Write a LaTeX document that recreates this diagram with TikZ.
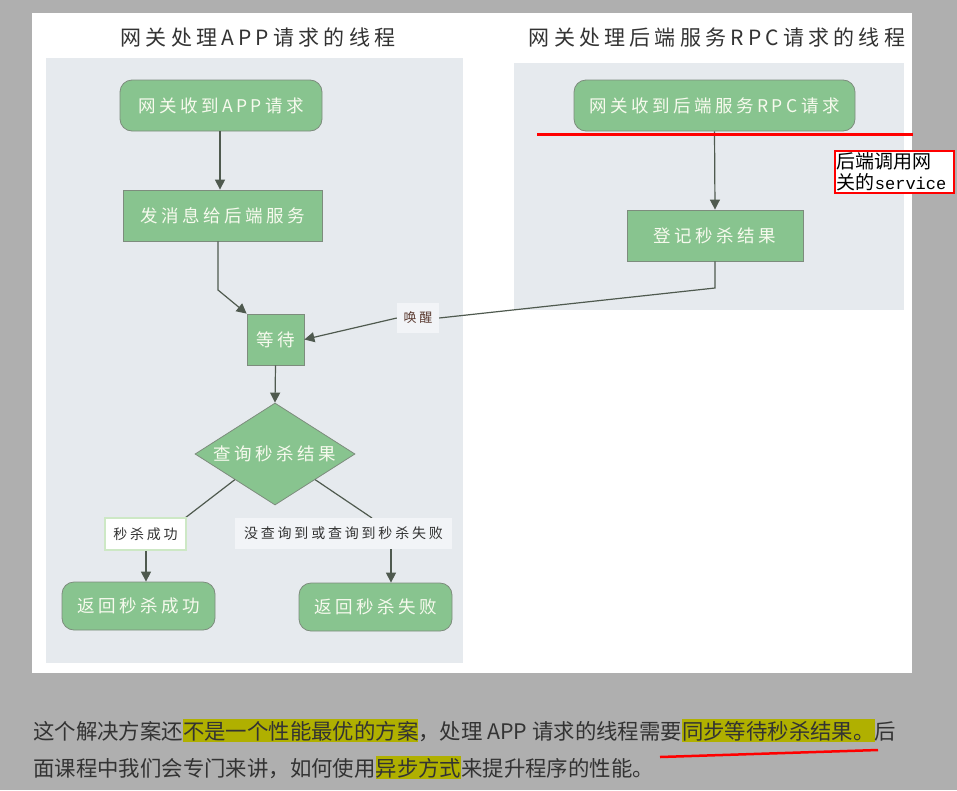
\documentclass[tikz,border=0pt]{standalone}
\usepackage{fontspec}
\setmainfont{Noto Sans CJK SC}
\newfontfamily\hand[LetterSpace=20]{Noto Sans CJK SC}
\newfontfamily\monof{Liberation Mono}
\usetikzlibrary{shapes.geometric,arrows.meta}
\definecolor{bgout}{HTML}{AFAFAF}
\definecolor{lane}{HTML}{E6EAEE}
\definecolor{nodefill}{HTML}{88C48F}
\definecolor{nodeborder}{HTML}{7D8C7D}
\definecolor{nodetext}{HTML}{F7FAEE}
\definecolor{linec}{HTML}{4F5A4F}
\definecolor{labelfill}{HTML}{F2F4F7}
\definecolor{labelborder}{HTML}{CDE8C5}
\definecolor{titlec}{HTML}{333333}
\definecolor{hlc}{HTML}{B0B000}
\definecolor{wakec}{HTML}{5A3A30}
\newcommand\hlt[1]{{\setlength{\fboxsep}{0pt}\colorbox{hlc}{\rule[-3pt]{0pt}{23pt}#1}}}
\tikzset{
  box/.style={draw=nodeborder, fill=nodefill, text=nodetext, font=\hand\fontsize{17.5}{20}\selectfont, inner sep=0pt, line width=0.8pt},
  rbox/.style={box, rounded corners=12pt},
  conn/.style={draw=linec, line width=1.2pt},
  arr/.style={conn, -{Triangle[width=10pt,length=10pt]}},
  lbl/.style={fill=labelfill, text=titlec, inner sep=0pt, font=\hand\fontsize{14}{16}\selectfont},
  titletext/.style={text=titlec, font=\hand\fontsize{21}{25}\selectfont},
  paratext/.style={anchor=base west, inner sep=0pt, text=titlec, font=\fontsize{21.4}{26}\selectfont},
}
\begin{document}
\begin{tikzpicture}[x=1pt,y=-1pt]
\useasboundingbox (0,0) rectangle (957,790);
\fill[bgout] (0,0) rectangle (957,790);
\fill[white] (32,13) rectangle (912,673);
\fill[lane] (46,58) rectangle (463,663);
\fill[lane] (514,63) rectangle (904,310);
\node[titletext] (t1) at (258,37) {网关处理APP请求的线程};
\node[titletext] (t2) at (717,37) {网关处理后端服务RPC请求的线程};
% left lane
\node[rbox, minimum width=202pt, minimum height=51pt] (A) at (221,105.5) {网关收到APP请求};
\node[box, minimum width=199pt, minimum height=51pt] (B) at (222.5,215.5) {发消息给后端服务};
\node[box, minimum width=57pt, minimum height=51pt] (W) at (275.5,339.5) {等待};
\node[box, diamond, minimum width=160pt, minimum height=102pt, aspect=1.57] (D) at (275,454) {查询秒杀结果};
\node[rbox, minimum width=153pt, minimum height=48pt] (RS) at (138.5,606) {返回秒杀成功};
\node[rbox, minimum width=153pt, minimum height=48pt] (RF) at (375.5,607) {返回秒杀失败};
% right lane
\node[rbox, minimum width=281pt, minimum height=51pt] (R1) at (714.5,105.5) {网关收到后端服务RPC请求};
\node[box, minimum width=176pt, minimum height=51pt] (R2) at (715,235.5) {登记秒杀结果};
% connectors
\coordinate (bw) at (218,290);
\coordinate (rw) at (715,288);
\coordinate (fx) at (391,518);
\coordinate (sx) at (146,518);
\draw[arr] (A.south -| 220,0) -- (B.north -| 220,0);
\draw[arr] (B.south -| bw) -- (bw) -- (W.north west);
\draw[arr] (W.south) -- (D.north);
\draw[conn] (D.south west) -- (sx -| 185,0);
\draw[conn] (D.south east) -- (fx -| 372,0);
\draw[arr] (R1.south) -- (R2.north);
\node[lbl, fill=white, draw=labelborder, line width=1.5pt, minimum width=81pt, minimum height=32pt] (S) at (145.5,534) {秒杀成功};
\node[lbl, minimum width=217pt, minimum height=31pt] (F) at (343.5,533.5) {没查询到或查询到秒杀失败};
\draw[arr] (S.south -| sx) -- (RS.north -| sx);
\draw[arr] (F.south -| fx) -- (RF.north -| fx);
\node[lbl, text=wakec, minimum width=42pt, minimum height=30pt, font=\hand\fontsize{13}{15}\selectfont] (wake) at (418,318) {唤醒};
\draw[conn] (R2.south) -- (rw) -- (wake.east);
\draw[arr] (wake.west) -- (W.east);
% annotations
\draw[red, line width=3pt] (537,134) -- (913,134);
\node[draw=red, line width=1.8pt, fill=white, text=black, anchor=north west, inner xsep=2pt, inner ysep=2pt, align=left, text width=115pt, font=\fontsize{19}{21}\selectfont] (note) at (834,150) {后端调用网\\关的{\monof\fontsize{17}{21}\selectfont service}};
% paragraph
\node[paratext] (p1) at (33,739) {这个解决方案还\hlt{不是一个性能最优的方案}，处理 APP 请求的线程需要\hlt{同步等待秒杀结果。}后};
\node[paratext] (p2) at (33,776) {面课程中我们会专门来讲，如何使用\hlt{异步方式}来提升程序的性能。};
\draw[red, line width=2.5pt] (660,757) -- (878,750);
\end{tikzpicture}
\end{document}
